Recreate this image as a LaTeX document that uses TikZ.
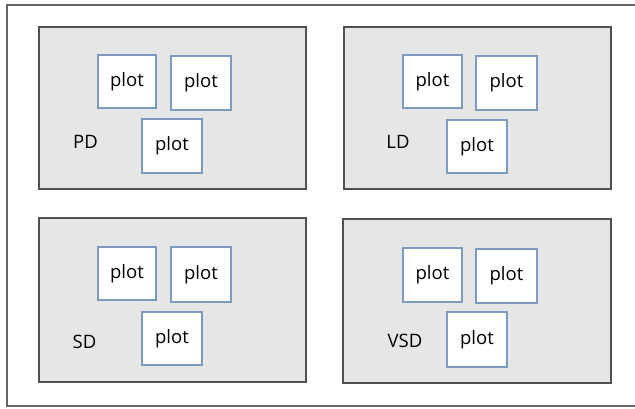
\documentclass[tikz,border=0pt]{standalone}
\usepackage{fontspec}
\setmainfont{Open Sans}
\definecolor{panelfill}{RGB}{230,230,230}
\definecolor{panelline}{RGB}{80,80,80}
\definecolor{plotline}{RGB}{125,155,190}
\definecolor{frameline}{RGB}{100,100,100}
\begin{document}
\begin{tikzpicture}[x=1pt,y=-1pt,
  panel/.style={draw=panelline,fill=panelfill,line width=1.3pt},
  plotbox/.style={draw=plotline,fill=white,line width=1.1pt,rectangle,inner sep=0pt,font=\fontsize{18.5}{22}\selectfont},
  tag/.style={inner sep=0pt,font=\fontsize{18.5}{22}\selectfont}]
\useasboundingbox (0,0) rectangle (635,408);
% outer frame (right edge is cut off)
\coordinate (fTR) at (635,5);
\coordinate (fTL) at (7,5);
\coordinate (fBL) at (7,406);
\coordinate (fBR) at (635,406);
\draw[frameline,line width=1.6pt] (fTR) -- (fTL) -- (fBL) -- (fBR);
% panels
\draw[panel] (39,27) rectangle (306,189);
\draw[panel] (344,27) rectangle (611,189);
\draw[panel] (39,218) rectangle (306,382);
\draw[panel] (343,219) rectangle (611,383);
% PD
\node[plotbox,minimum width=58pt,minimum height=53pt] (pd1) at (127,81.5) {plot};
\node[plotbox,minimum width=60pt,minimum height=54pt] (pd2) at (201,83) {plot};
\node[plotbox,minimum width=60pt,minimum height=54pt] (pd3) at (172,146) {plot};
\node[tag] (pdl) at (85.5,142) {PD};
% LD
\node[plotbox,minimum width=59pt,minimum height=53pt] (ld1) at (432.5,81.5) {plot};
\node[plotbox,minimum width=61pt,minimum height=54pt] (ld2) at (506.5,83) {plot};
\node[plotbox,minimum width=60pt,minimum height=53pt] (ld3) at (477,146.5) {plot};
\node[tag] (ldl) at (398,142) {LD};
% SD
\node[plotbox,minimum width=58pt,minimum height=53pt] (sd1) at (127,273.5) {plot};
\node[plotbox,minimum width=60pt,minimum height=55pt] (sd2) at (201,274.5) {plot};
\node[plotbox,minimum width=60pt,minimum height=53pt] (sd3) at (172,338.5) {plot};
\node[tag] (sdl) at (84.5,342) {SD};
% VSD
\node[plotbox,minimum width=59pt,minimum height=54pt] (vsd1) at (432.5,275) {plot};
\node[plotbox,minimum width=61pt,minimum height=54pt] (vsd2) at (506.5,276) {plot};
\node[plotbox,minimum width=60pt,minimum height=55pt] (vsd3) at (477,339.5) {plot};
\node[tag] (vsdl) at (405,341) {VSD};
\end{tikzpicture}
\end{document}
